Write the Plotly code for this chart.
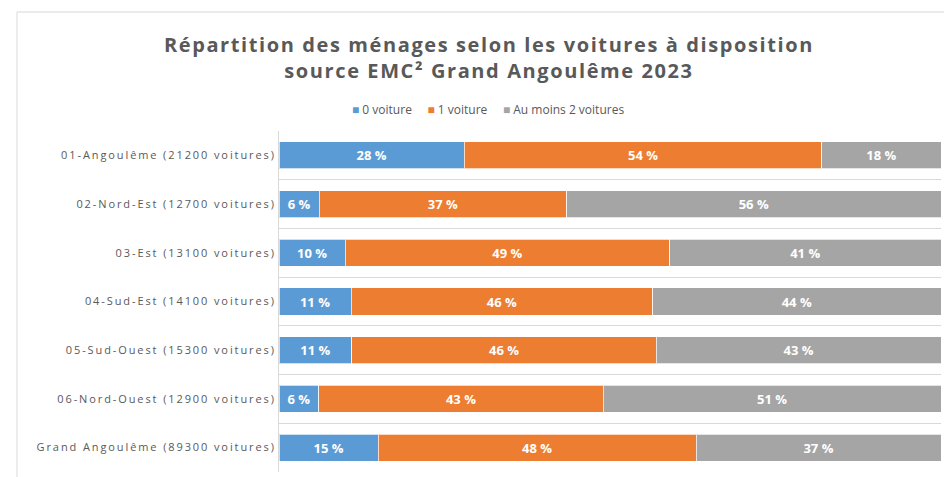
import plotly.graph_objects as go

categories = [
    "01-Angoulême (21200 voitures)",
    "02-Nord-Est (12700 voitures)",
    "03-Est (13100 voitures)",
    "04-Sud-Est (14100 voitures)",
    "05-Sud-Ouest (15300 voitures)",
    "06-Nord-Ouest (12900 voitures)",
    "Grand Angoulême (89300 voitures)",
]
zero_voiture = [28, 6, 10, 11, 11, 6, 15]
une_voiture = [54, 37, 49, 46, 46, 43, 48]
deux_plus = [18, 56, 41, 44, 43, 51, 37]

series_names = ["0 voiture", "1 voiture", "Au moins 2 voitures"]
series_values = [zero_voiture, une_voiture, deux_plus]
series_colors = ["#5B9BD5", "#ED7D31", "#A5A5A5"]

fig = go.Figure()
for name, vals, color in zip(series_names, series_values, series_colors):
    fig.add_trace(go.Bar(
        name=name, y=categories, x=vals, orientation="h",
        marker=dict(color=color, line=dict(color="rgba(255,255,255,0.7)", width=1)),
        customdata=vals,
        texttemplate="%{customdata} %",
        textposition="inside", insidetextanchor="middle", textangle=0,
        constraintext="none",
        textfont=dict(family="Open Sans", size=13, color="white", weight="bold"),
        hoverinfo="skip",
        showlegend=False,
    ))

nb = "\u00a0"
legend_text = (nb * 5).join(
    f"<span style='color:{c}'>■</span>{nb}{n}" for n, c in zip(series_names, series_colors)
)

fig.update_layout(
    width=944, height=477,
    barmode="stack", barnorm="percent", bargap=0.445,
    paper_bgcolor="white", plot_bgcolor="white",
    margin=dict(l=279, r=3, t=131, b=5),
    title=dict(
        text="Répartition des ménages selon les voitures à disposition<br>source EMC² Grand Angoulême 2023",
        x=0.518, xanchor="center", y=0.891, yanchor="top",
        font=dict(family="Open Sans", size=20, color="#595959", weight="bold"),
    ),
    annotations=[dict(
        text=legend_text, xref="paper", yref="paper", x=0.3157, y=1.0616,
        xanchor="center", yanchor="middle", showarrow=False,
        font=dict(family="Open Sans", size=12, color="#595959"),
    )],
    xaxis=dict(range=[0, 100], visible=False, fixedrange=True),
    yaxis=dict(
        autorange="reversed", type="category", tickson="boundaries",
        showgrid=True, gridcolor="#D9D9D9", gridwidth=1,
        showline=True, linecolor="#D9D9D9", linewidth=1,
        ticks="", ticklen=0, fixedrange=True,
        tickfont=dict(family="Open Sans", size=11, color="#595959"),
    ),
    shapes=[dict(
        type="rect", xref="paper", yref="paper",
        x0=-0.3958, x1=1.5, y0=-0.5, y1=1.349,
        line=dict(color="#D9D9D9", width=1), fillcolor="rgba(0,0,0,0)", layer="below",
    )],
)

post = """
document.body.style.margin = '0';
document.body.style.overflow = 'hidden';
var gd = document.getElementById('{plot_id}');
function spacing(){
  gd.querySelectorAll('.ytick text').forEach(function(t){ t.style.letterSpacing = '1.9px'; });
  gd.querySelectorAll('.gtitle').forEach(function(t){ t.style.letterSpacing = '1.6px'; });
}
spacing();
gd.on('plotly_afterplot', spacing);
"""

fig.write_html("out.html", post_script=post, config={"displayModeBar": False, "staticPlot": True})
